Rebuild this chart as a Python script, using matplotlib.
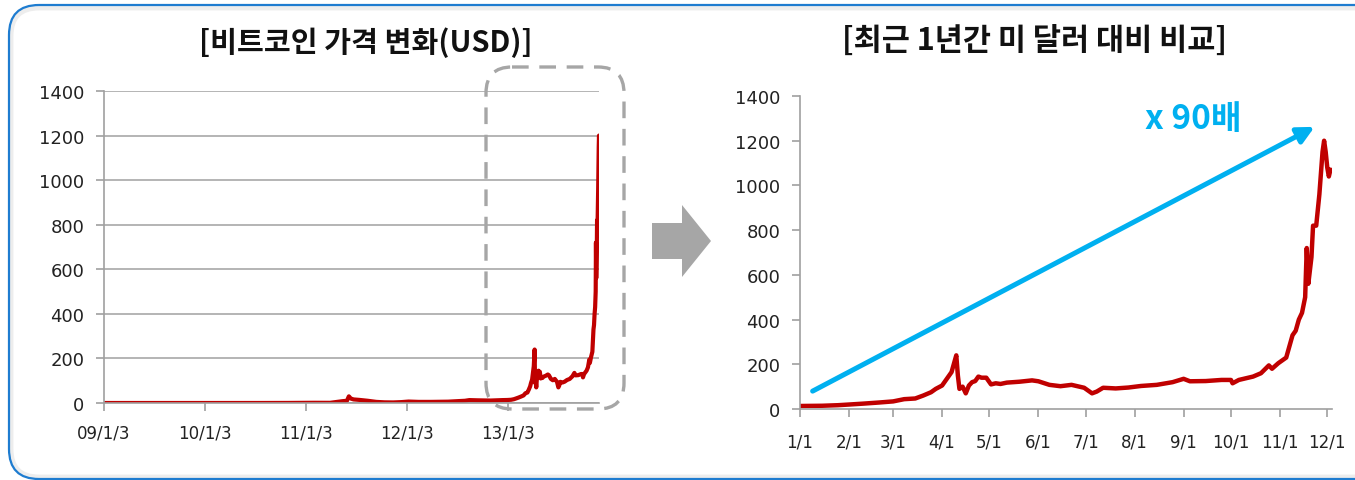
import matplotlib.pyplot as plt
import numpy as np
from matplotlib.patches import FancyBboxPatch, Polygon

plt.rcParams['font.family'] = ['DejaVu Sans', 'Noto Sans CJK KR']

# --- data -------------------------------------------------------------
# 2009-2012 (left chart only)
early_dates = ["2009-01-03", "2009-06-01", "2010-01-01", "2010-07-15", "2010-11-01",
               "2011-02-01", "2011-04-01", "2011-05-15", "2011-06-01", "2011-06-08",
               "2011-06-15", "2011-06-25", "2011-07-15", "2011-08-15", "2011-09-15",
               "2011-10-15", "2011-11-15", "2011-12-15", "2012-01-10", "2012-02-15",
               "2012-04-01", "2012-06-01", "2012-08-01", "2012-08-17", "2012-09-15",
               "2012-11-01", "2012-12-15"]
early_values = [0, 0, 0, 0.06, 0.3,
                1, 0.8, 8, 10, 30,
                20, 16, 14, 10, 5,
                3, 2.5, 4, 6.5, 5,
                5, 6, 10, 13, 12,
                11, 13]

# 2013 (both charts)
dates_2013 = ["2013-01-01", "2013-01-15", "2013-01-25", "2013-02-01", "2013-02-10",
              "2013-02-20", "2013-03-01", "2013-03-08", "2013-03-15", "2013-03-20",
              "2013-03-25", "2013-03-28", "2013-04-01", "2013-04-04", "2013-04-07",
              "2013-04-09", "2013-04-10", "2013-04-11", "2013-04-12", "2013-04-14",
              "2013-04-16", "2013-04-18", "2013-04-20", "2013-04-22", "2013-04-24",
              "2013-04-26", "2013-04-29", "2013-05-02", "2013-05-05", "2013-05-08",
              "2013-05-12", "2013-05-20", "2013-05-28", "2013-06-01", "2013-06-08",
              "2013-06-15", "2013-06-22", "2013-06-30", "2013-07-05", "2013-07-08",
              "2013-07-12", "2013-07-20", "2013-07-28", "2013-08-05", "2013-08-15",
              "2013-08-25", "2013-09-01", "2013-09-05", "2013-09-15", "2013-09-25",
              "2013-10-01", "2013-10-02", "2013-10-06", "2013-10-15", "2013-10-20",
              "2013-10-25", "2013-10-27", "2013-10-31", "2013-11-05", "2013-11-07",
              "2013-11-09", "2013-11-11", "2013-11-13", "2013-11-15", "2013-11-17",
              "2013-11-18", "2013-11-19", "2013-11-21", "2013-11-22", "2013-11-24",
              "2013-11-26", "2013-11-28", "2013-11-29", "2013-11-30", "2013-12-01",
              "2013-12-02", "2013-12-03"]
values_2013 = [13.5, 14.5, 17, 20, 24,
               29, 34, 44, 47, 60,
               75, 90, 105, 135, 165,
               215, 240, 150, 90, 100,
               70, 105, 120, 125, 145,
               140, 140, 110, 115, 112,
               118, 122, 128, 124, 108,
               102, 108, 95, 70, 78,
               95, 92, 96, 103, 108,
               120, 135, 124, 125, 130,
               130, 115, 130, 145, 160,
               195, 180, 205, 230, 280,
               330, 350, 400, 430, 500,
               720, 560, 680, 820, 820,
               960, 1150, 1200, 1150, 1080,
               1040, 1070]

left_xticks = ["2009-01-03", "2010-01-03", "2011-01-03", "2012-01-03", "2013-01-03"]
left_xlabels = ["09/1/3", "10/1/3", "11/1/3", "12/1/3", "13/1/3"]
right_xticks = ["2013-%02d-01" % m for m in range(1, 13)]
right_xlabels = ["%d/1" % m for m in range(1, 13)]
yticks = [0, 200, 400, 600, 800, 1000, 1200, 1400]

red = "#C00000"
gray = "#A6A6A6"
axis_gray = "#A0A0A0"
blue = "#00B0F0"
kr = ['Noto Sans CJK KR']

d_early = np.array(early_dates, dtype="datetime64[D]")
d_2013 = np.array(dates_2013, dtype="datetime64[D]")

W, H = 1355, 481
fig = plt.figure(figsize=(W / 100, H / 100), dpi=100)

# background frame (right edge runs off the canvas)
bg = fig.add_axes([0, 0, 1, 1], zorder=-5)
bg.set_xlim(0, W)
bg.set_ylim(H, 0)
bg.axis("off")
bg.add_patch(FancyBboxPatch((11, 9), 1380, 469, boxstyle="round,pad=0,rounding_size=28",
                            fc="white", ec="#EDEDED", lw=3.5, clip_on=True))
bg.add_patch(FancyBboxPatch((9, 6), 1385, 474, boxstyle="round,pad=0,rounding_size=30",
                            fc="none", ec="#1E7CD0", lw=1.6, clip_on=True))


def style_axes(ax, grid):
    ax.set_ylim(0, 1400)
    ax.set_yticks(yticks)
    for s in ["top", "right"]:
        ax.spines[s].set_visible(False)
    for s in ["left", "bottom"]:
        ax.spines[s].set_color(axis_gray)
        ax.spines[s].set_linewidth(1.2)
    ax.tick_params(axis="both", colors=axis_gray, labelcolor="#222222",
                   length=6, width=1.2)
    ax.tick_params(axis="y", labelsize=13, pad=8)
    ax.tick_params(axis="x", labelsize=12, pad=9)
    if grid:
        ax.yaxis.grid(True, color=axis_gray, lw=1.1)
        ax.set_axisbelow(True)
    ax.set_facecolor("none")


# left chart
ax1 = fig.add_axes([104 / W, 77 / H, 495 / W, 312 / H])
ax1.plot(np.concatenate([d_early, d_2013]), early_values + values_2013,
         color=red, lw=3, solid_joinstyle="round")
ax1.set_xlim(np.datetime64("2009-01-03"), np.datetime64("2013-11-29"))
ax1.set_xticks(np.array(left_xticks, dtype="datetime64[D]"))
ax1.set_xticklabels(left_xlabels)
style_axes(ax1, True)
fig.text(366 / W, 1 - 43 / H, "[비트코인 가격 변화(USD)]", ha="center", va="center",
         fontsize=21, fontweight="bold", color="#111111", family=kr)

# right chart
ax2 = fig.add_axes([800 / W, 71 / H, 532 / W, 313 / H])
ax2.plot(d_2013, values_2013, color=red, lw=3.2, solid_joinstyle="round")
ax2.set_xlim(np.datetime64("2013-01-01"), np.datetime64("2013-12-04"))
ax2.set_xticks(np.array(right_xticks, dtype="datetime64[D]"))
ax2.set_xticklabels(right_xlabels)
style_axes(ax2, False)
ax2.tick_params(axis="x", pad=11)
ax2.annotate("", xy=(np.datetime64("2013-11-23"), 1262),
             xytext=(np.datetime64("2013-01-09"), 80),
             arrowprops=dict(arrowstyle="-|>,head_length=1.0,head_width=0.5",
                             color=blue, lw=3.6, shrinkA=0, shrinkB=0))
ax2.text(np.datetime64("2013-09-07"), 1300, "x 90배", color=blue, fontsize=24,
         fontweight="bold", ha="center", va="center", family=kr)
fig.text(1035 / W, 1 - 41 / H, "[최근 1년간 미 달러 대비 비교]", ha="center", va="center",
         fontsize=22, fontweight="bold", color="#111111", family=kr)

# overlay: dashed highlight and gray arrow
top = fig.add_axes([0, 0, 1, 1], zorder=10)
top.set_xlim(0, W)
top.set_ylim(H, 0)
top.axis("off")
top.patch.set_alpha(0)
top.add_patch(FancyBboxPatch((486, 68), 138, 342, boxstyle="round,pad=0,rounding_size=26",
                             fc="none", ec=gray, lw=2.4, ls=(0, (5, 3.2))))
top.add_patch(Polygon([(652, 224), (682, 224), (682, 206), (711, 242), (682, 278),
                       (682, 260), (652, 260)], closed=True, fc=gray, ec="none"))

fig.savefig("out.png", dpi=100)
